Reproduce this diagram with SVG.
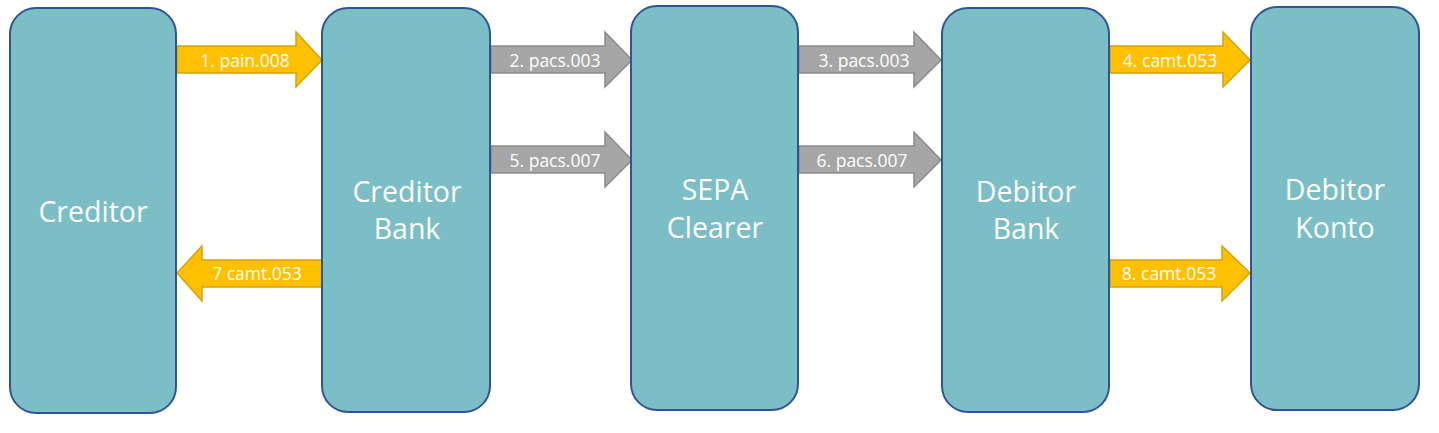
<svg xmlns="http://www.w3.org/2000/svg" width="1439" height="433" viewBox="0 0 1439 433">
<style>
.node{fill:#7BBEC5;stroke:#2F5597;stroke-width:2}
.nt{font-family:"Open Sans","Noto Sans",sans-serif;font-size:28.5px;fill:#fff;text-anchor:middle}
.y{fill:#FFC000;stroke:#D6A308;stroke-width:1.5}
.g{fill:#A6A6A6;stroke:#8A8A8A;stroke-width:1.5}
.at{font-family:"Open Sans","Noto Sans",sans-serif;font-size:17.5px;fill:#fff;text-anchor:middle}
</style>
<rect width="1439" height="433" fill="#fff"/>
<g id="connectors">
<g id="a1"><polygon class="y" points="177,46 296,46 296,32 322,60 296,87 296,73 177,73"/><text class="at" x="245" y="66.5">1. pain.008</text></g>
<g id="a2"><polygon class="g" points="491,46 605,46 605,32 632,60 605,87 605,73 491,73"/><text class="at" x="555" y="66.5">2. pacs.003</text></g>
<g id="a3"><polygon class="g" points="799,46 914,46 914,32 941,60 914,87 914,73 799,73"/><text class="at" x="864" y="66.5">3. pacs.003</text></g>
<g id="a4"><polygon class="y" points="1110,46 1223,46 1223,32 1250,60 1223,87 1223,73 1110,73"/><text class="at" x="1170" y="66.5">4. camt.053</text></g>
<g id="a5"><polygon class="g" points="491,146 605,146 605,132 632,160 605,187 605,173 491,173"/><text class="at" x="555" y="166.5">5. pacs.007</text></g>
<g id="a6"><polygon class="g" points="799,146 914,146 914,132 941,160 914,187 914,173 799,173"/><text class="at" x="862" y="166.5">6. pacs.007</text></g>
<g id="a7"><polygon class="y" points="322,260 202,260 202,246 177,273 202,301 202,287 322,287"/><text class="at" x="257" y="280">7 camt.053</text></g>
<g id="a8"><polygon class="y" points="1110,260 1222,260 1222,246 1250,273 1222,301 1222,287 1110,287"/><text class="at" x="1169" y="280">8. camt.053</text></g>
</g>
<g id="creditor"><rect class="node" x="10" y="8" width="166" height="405" rx="26"/><text class="nt" x="93" y="222">Creditor</text></g>
<g id="creditor-bank"><rect class="node" x="322" y="8" width="168" height="404" rx="26"/><text class="nt" x="407" y="202">Creditor</text><text class="nt" x="407" y="239">Bank</text></g>
<g id="sepa-clearer"><rect class="node" x="631" y="6" width="167" height="404" rx="26"/><text class="nt" x="715" y="200">SEPA</text><text class="nt" x="715" y="238">Clearer</text></g>
<g id="debitor-bank"><rect class="node" x="942" y="8" width="167" height="404" rx="26"/><text class="nt" x="1026" y="202">Debitor</text><text class="nt" x="1026" y="239">Bank</text></g>
<g id="debitor-konto"><rect class="node" x="1251" y="7" width="168" height="403" rx="26"/><text class="nt" x="1335" y="200">Debitor</text><text class="nt" x="1335" y="238">Konto</text></g>
</svg>
